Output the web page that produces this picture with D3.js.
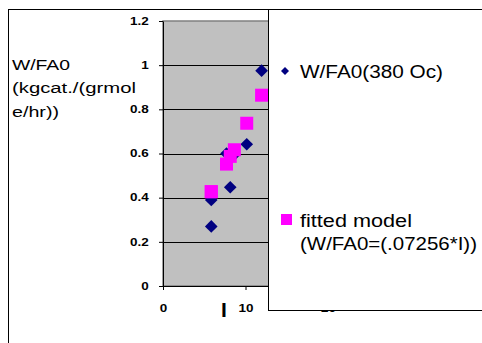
<!DOCTYPE html>
<html>
<head>
<meta charset="utf-8">
<script src="https://cdn.jsdelivr.net/npm/d3@7"></script>
<style>
  body { margin: 0; background: #fff; }
  svg { display: block; font-family: "Liberation Sans", Arial, sans-serif; }
</style>
</head>
<body>
<div id="chart"></div>
<script>
// data
var iValues = [5.85, 5.85, 7.7, 8.15, 8.65, 10.15, 11.95],
	measured = [0.27, 0.39, 0.6, 0.447, 0.595, 0.642, 0.975],
	fitted = [0.427, 0.427, 0.552, 0.587, 0.617, 0.737, 0.864],
	xTicks = [0, 10, 20],
	yTicks = [0, 0.2, 0.4, 0.6, 0.8, 1, 1.2],
	yTickLabels = ["0", "0.2", "0.4", "0.6", "0.8", "1", "1.2"],
	seriesNames = ["W/FA0(380 Oc)", "fitted model", "(W/FA0=(.07256*I))"],
	titleLines = ["W/FA0", "(kgcat./(grmol", "e/hr))"];

var width = 482,
	height = 343,
	plot = {left: 163, right: 328, top: 21, bottom: 286};

var svg = d3.select("#chart")
	.append("svg")
	.attr("width", width)
	.attr("height", height);

var x = d3.scaleLinear().domain([0, 20]).range([plot.left, plot.right]),
	y = d3.scaleLinear().domain([0, 1.2]).range([plot.bottom, plot.top]);

// outer chart frame
svg.append("rect")
	.attr("x", 8.5).attr("y", 9.5)
	.attr("width", 600).attr("height", 400)
	.attr("fill", "#fff").attr("stroke", "#000");

// plot area
svg.append("rect")
	.attr("x", plot.left).attr("y", plot.top)
	.attr("width", plot.right - plot.left).attr("height", plot.bottom - plot.top)
	.attr("fill", "#c0c0c0").attr("stroke", "#808080").attr("stroke-width", 1.5);

svg.selectAll("line.grid")
	.data(yTicks.slice(1, -1))
	.enter()
	.append("line")
	.attr("class", "grid")
	.attr("x1", plot.left).attr("x2", plot.right)
	.attr("y1", function(d){ return Math.round(y(d)) + 0.5; })
	.attr("y2", function(d){ return Math.round(y(d)) + 0.5; })
	.attr("stroke", "#000");

// axes
var yAxis = svg.append("g")
	.attr("transform", "translate(" + plot.left + ",0)")
	.call(d3.axisLeft(y).tickValues(yTicks).tickSize(4).tickSizeOuter(0)
		.tickFormat(function(d, i){ return yTickLabels[i]; }));

var xAxis = svg.append("g")
	.attr("transform", "translate(0," + plot.bottom + ")")
	.call(d3.axisBottom(x).tickValues(xTicks).tickSize(4).tickSizeOuter(0));

[yAxis, xAxis].forEach(function(a){
	a.select(".domain").attr("stroke", "#000");
	a.selectAll(".tick line").attr("stroke", "#000");
	a.selectAll("text")
		.attr("font-family", "'Liberation Sans', Arial, sans-serif")
		.attr("font-size", 10)
		.attr("font-weight", "bold")
		.attr("fill", "#000");
});
yAxis.selectAll("text").attr("x", -10.5).attr("transform", "scale(1.35,1)");
xAxis.selectAll("text").attr("y", 26).attr("dy", 0).attr("transform", "scale(1.35,1)");

// x axis title
svg.append("text")
	.attr("x", 224).attr("y", 316.5)
	.attr("text-anchor", "middle")
	.attr("font-size", 21).attr("font-weight", "bold")
	.text("I");

// y axis title
svg.selectAll("text.ytitle")
	.data(titleLines)
	.enter()
	.append("text")
	.attr("class", "ytitle")
	.attr("x", 12)
	.attr("y", function(d, i){ return 69.5 + i * 23.5; })
	.attr("font-size", 15.5)
	.attr("textLength", function(d, i){ return [58, 124, 47][i]; })
	.attr("lengthAdjust", "spacingAndGlyphs")
	.text(function(d){ return d; });

// series
var diamond = d3.symbol().type(d3.symbolSquare).size(80)(),
	square = d3.symbol().type(d3.symbolSquare).size(169)();

svg.selectAll("path.measured")
	.data(iValues)
	.enter()
	.append("path")
	.attr("class", "measured")
	.attr("d", diamond)
	.attr("fill", "#000080")
	.attr("transform", function(d, i){
		return "translate(" + x(d) + "," + y(measured[i]) + ") rotate(45)";
	});

svg.selectAll("path.fitted")
	.data(iValues)
	.enter()
	.append("path")
	.attr("class", "fitted")
	.attr("d", square)
	.attr("fill", "#ff00ff")
	.attr("transform", function(d, i){
		return "translate(" + x(d) + "," + y(fitted[i]) + ")";
	});

// legend
var legend = svg.append("g");
legend.append("rect")
	.attr("x", 268.5).attr("y", 9.5)
	.attr("width", 300).attr("height", 301)
	.attr("fill", "#fff").attr("stroke", "#000");

legend.append("path")
	.attr("d", d3.symbol().type(d3.symbolSquare).size(32)())
	.attr("fill", "#000080")
	.attr("transform", "translate(285,71) rotate(45)");
legend.append("rect")
	.attr("x", 281).attr("y", 214)
	.attr("width", 11).attr("height", 11)
	.attr("fill", "#ff00ff");

legend.selectAll("text")
	.data(seriesNames)
	.enter()
	.append("text")
	.attr("x", 300)
	.attr("y", function(d, i){ return [78, 227, 250][i]; })
	.attr("font-size", 18)
	.attr("textLength", function(d, i){ return [143, 112, 177][i]; })
	.attr("lengthAdjust", "spacingAndGlyphs")
	.text(function(d){ return d; });
</script>
</body>
</html>
